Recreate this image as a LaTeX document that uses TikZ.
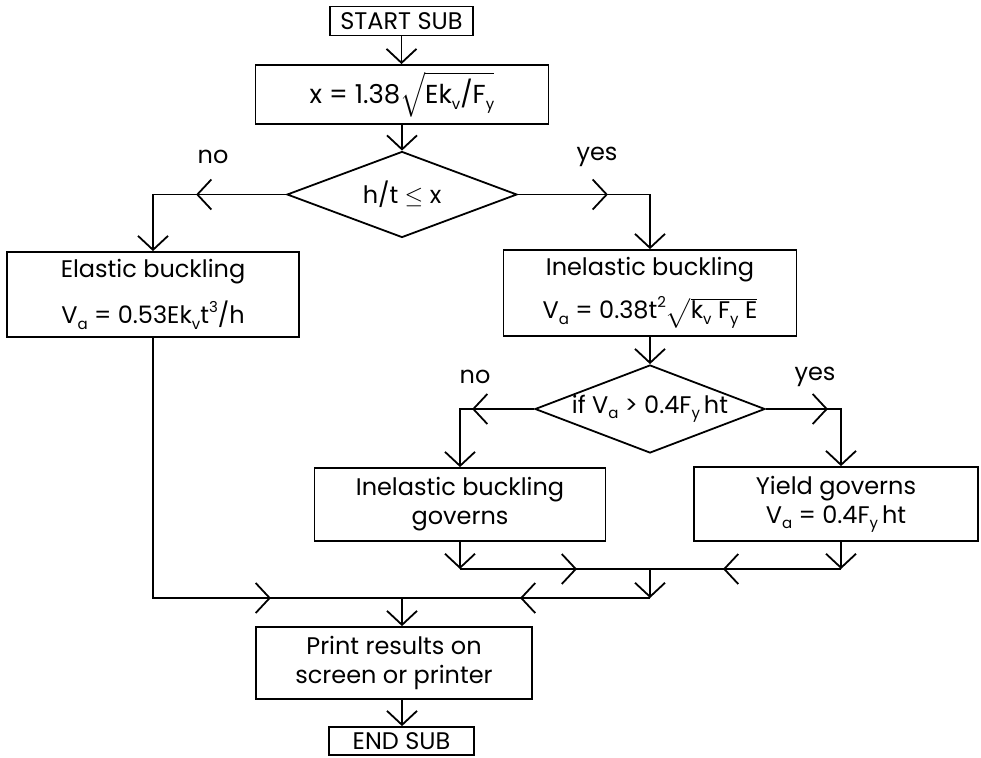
\RequirePackage{fix-cm}
\documentclass[tikz,border=0pt]{standalone}
\usepackage{exscale}
\usepackage{fontspec}
\setmainfont{Poppins}
\usetikzlibrary{arrows.meta,shapes.geometric,decorations.markings}
\newcommand\mysub[1]{\raisebox{-0.4ex}{\fontsize{15}{15}\selectfont #1}}
\newcommand\mysup[1]{\raisebox{0.85ex}{\fontsize{15}{15}\selectfont #1}}
\newcommand\myroot[1]{$\sqrt{\rule[-0.3ex]{0pt}{0.82em}\mbox{#1}}$}
\begin{document}
\begin{tikzpicture}[x=1pt,y=-1pt, line width=1.8pt,
  >={Straight Barb[length=14pt,width=30pt]},
  box/.style={draw, rectangle, inner sep=0pt, font=\fontsize{24}{29}\selectfont, align=center},
  dec/.style={draw, diamond, aspect=2.67, minimum width=230pt, minimum height=86pt, inner sep=0pt, font=\fontsize{24}{29}\selectfont},
  lab/.style={font=\fontsize{24}{29}\selectfont},
  midarr/.style={postaction={decorate,decoration={markings,mark=at position #1 with {\arrow{>}}}}}]
\useasboundingbox (0,0) rectangle (981,757);

\node[box, minimum width=143pt, minimum height=29pt] (start) at (401.5,21) {START SUB};
\node[box, minimum width=293pt, minimum height=59pt, font=\fontsize{26}{30}\selectfont] (xb) at (402,94.5) {x = 1.38\myroot{Ek\mysub{v}/F\mysub{y}}};
\node[dec] (d1) at (402,194.5) {h/t $\le$ x};
\node[box, minimum width=292pt, minimum height=85pt] (el) at (153,294.5) {Elastic buckling\\[16pt] V\mysub{a} = 0.53Ek\mysub{v}t\mysup{3}/h};
\node[box, minimum width=293pt, minimum height=86pt] (in) at (650,293) {Inelastic buckling\\[14pt] V\mysub{a} = 0.38t\mysup{2}\myroot{k\mysub{v} F\mysub{y} E}};
\node[dec, minimum height=88pt] (d2) at (650,409) {if V\mysub{a} > 0.4F\mysub{y}\,ht};
\node[box, minimum width=291pt, minimum height=73pt] (ig) at (460,504.5) {Inelastic buckling\\governs};
\node[box, minimum width=284pt, minimum height=74pt] (yg) at (836,504) {Yield governs\\V\mysub{a} = 0.4F\mysub{y}\,ht};
\node[box, minimum width=276pt, minimum height=72pt] (pr) at (394,663) {Print results on\\screen or printer};
\node[box, minimum width=145pt, minimum height=28pt] (en) at (401.5,741) {END SUB};

\node[lab] (no1) at (213,157) {no};
\node[lab] (yes1) at (597,157) {yes};
\node[lab] (no2) at (475,377) {no};
\node[lab] (yes2) at (815,377) {yes};

\coordinate (jm) at (650,569);
\coordinate (j1) at (ig.south |- jm);
\coordinate (j2) at ([xshift=5pt]yg.south |- jm);
\coordinate (jm2) at (650,598);
\coordinate (jb) at (402,598);

\draw[->] (start.south) -- (start.south |- xb.north);
\draw[->] (xb.south) -- (d1.north);
\draw[->, midarr=90pt] (d1.west) -| (el.north);
\draw[->, midarr=90pt] (d1.east) -| (in.north);
\draw[->] (in.south) -- (d2.north);
\draw[->, midarr=62pt] (d2.west) -| (ig.north);
\draw[->, midarr=62pt] (d2.east) -| ([xshift=5pt]yg.north);
\draw[->] (ig.south) -- (j1);
\draw[->] ([xshift=5pt]yg.south) -- (j2);
\draw[midarr=117pt] (j1) -- (jm);
\draw[midarr=118pt] (j2) -- (jm);
\draw[->] (jm) -- (jm2);
\draw[midarr=130pt] (jm2) -- (jb);
\draw[midarr=378pt] (el.south) |- (jb);
\draw[->] (jb) -- (jb |- pr.north);
\draw[->] (pr.south -| jb) -- (en.north -| jb);
\end{tikzpicture}
\end{document}
